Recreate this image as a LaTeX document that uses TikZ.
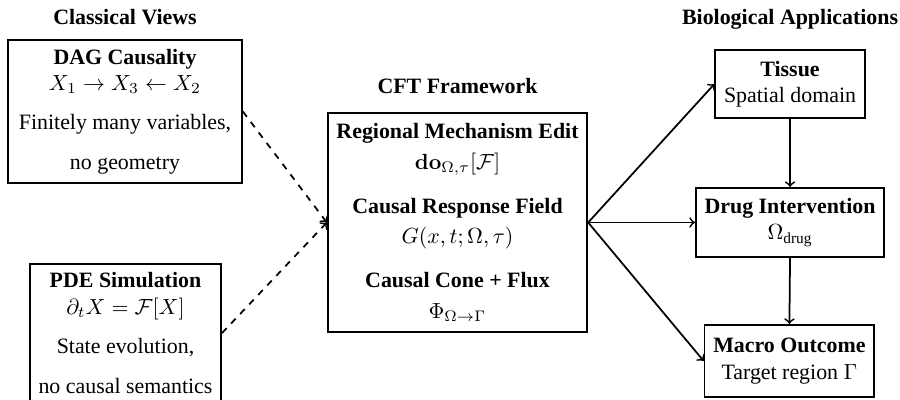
\documentclass[tikz,border=0pt]{standalone}
\usepackage{amsmath}
\usepackage{amssymb}
\usepackage[no-math]{fontspec}
\setmainfont{Liberation Serif}
\usepackage{tikz}

\tikzset{
  box/.style={draw, thick, align=center, inner sep=4pt},
  coltitle/.style={font=\bfseries, anchor=base},
  link/.style={thick, ->},
  weaklink/.style={thick, dashed, ->}
}

\begin{document}
\begin{tikzpicture}
        \useasboundingbox (0,0) rectangle (14.445,6.42);

        % Colonna sinistra
        \node[coltitle] (classtitle) at (2.006,6.019) {Classical Views};
        \node[box, minimum width=3.756cm, minimum height=2.287cm] (dag) at (2.006,4.630)
            {\textbf{DAG Causality}\\ $X_1 \to X_3 \leftarrow X_2$\\[6pt] Finitely many variables,\\[6pt] no geometry};
        \node[box, minimum width=3.066cm, minimum height=2.151cm] (pde) at (2.014,1.075)
            {\textbf{PDE Simulation}\\ $\partial_t X = \mathcal{F}[X]$\\[6pt] State evolution,\\[6pt] no causal semantics};

        % Colonna centrale
        \node[coltitle] (cfttitle) at (7.343,4.927) {CFT Framework};
        \node[box, minimum width=4.157cm, minimum height=3.515cm] (cft) at (7.343,2.849)
            {\textbf{Regional Mechanism Edit}\\[2pt] $\mathbf{do}_{\Omega,\tau}[\mathcal{F}]$\\[8pt]
             \textbf{Causal Response Field}\\[2pt] $G(x,t;\Omega,\tau)$\\[8pt]
             \textbf{Causal Cone + Flux}\\[2pt] $\Phi_{\Omega\to\Gamma}$};

        % Colonna destra
        \node[coltitle] (biotitle) at (12.68,6.019) {Biological Applications};
        \node[box, minimum width=2.39cm, minimum height=1.09cm] (tissue) at (12.68,5.072)
            {\textbf{Tissue}\\ Spatial domain};
        \node[box, minimum width=3.02cm, minimum height=1.11cm] (drug) at (12.68,2.849)
            {\textbf{Drug Intervention}\\ $\Omega_{\text{drug}}$};
        \node[box, minimum width=2.71cm, minimum height=1.16cm] (macro) at (12.67,0.626)
            {\textbf{Macro Outcome}\\ Target region $\Gamma$};

        % Frecce
        \draw[weaklink] (dag.east) -- (cft.west);
        \draw[weaklink] (pde.east) -- (cft.west);
        \draw[link] (cft.east) -- (tissue.west);
        \draw[link] (cft.east) -- (drug.west);
        \draw[link] (cft.east) -- (macro.west);
        \draw[link] (tissue.south) -- (drug.north);
        \draw[link] (drug.south) -- (macro.north);
    \end{tikzpicture}
\end{document}
